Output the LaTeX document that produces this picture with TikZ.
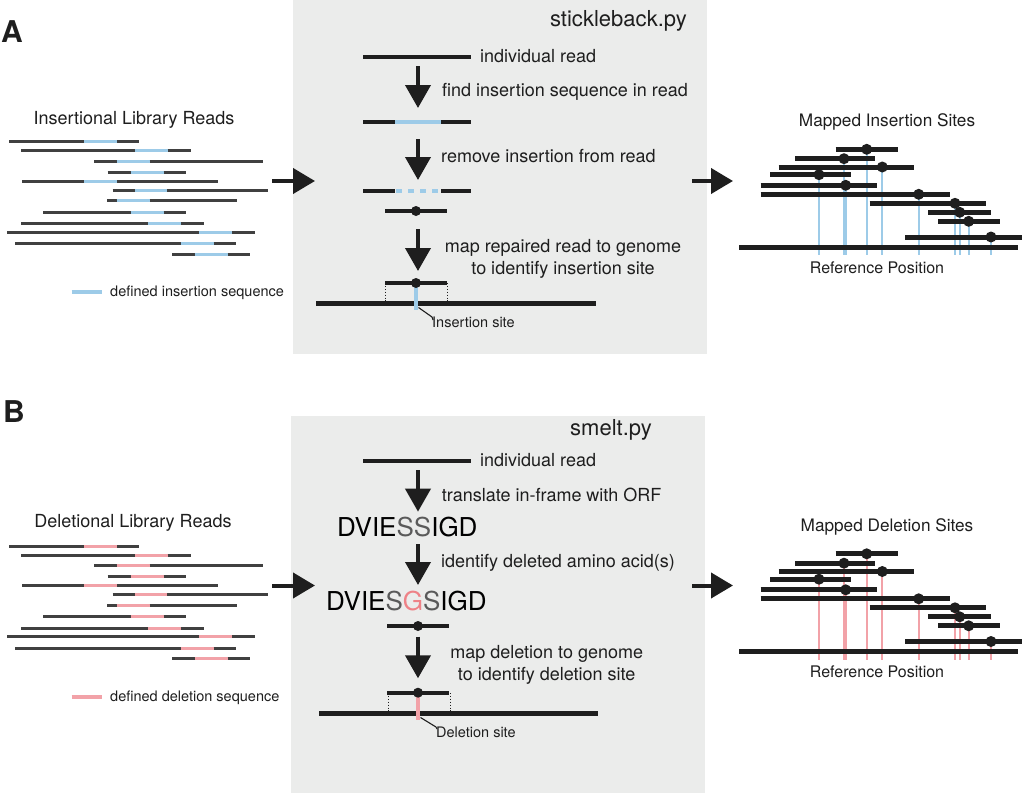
\documentclass[tikz,border=0pt]{standalone}
\usepackage{fontspec}
\setmainfont{TeX Gyre Heros}
\usetikzlibrary{arrows.meta}
\definecolor{panelbg}{RGB}{235,236,235}
\definecolor{readgray}{RGB}{64,64,64}
\definecolor{readblack}{RGB}{30,30,30}
\definecolor{insblue}{RGB}{157,203,232}
\definecolor{delpink}{RGB}{242,162,168}
\definecolor{aagray}{RGB}{90,90,90}
\definecolor{aapink}{RGB}{238,130,135}
\tikzset{
  libread/.style={readgray, line width=3pt},
  cread/.style={readblack, line width=4pt},
  mread/.style={readblack, line width=5pt},
  bigarrow/.style={readblack, line width=4pt, -{Triangle[length=23pt,width=25pt]}},
  rdot/.style={circle, fill=readblack, inner sep=0pt, minimum size=11pt},
  sdot/.style={circle, fill=readblack, inner sep=0pt, minimum size=10pt},
  steplabel/.style={font=\fontsize{18}{21}\selectfont, text=readblack, inner sep=0pt},
  small/.style={font=\fontsize{14.5}{17}\selectfont, text=readblack, inner sep=0pt},
  ptitle/.style={font=\fontsize{22}{26}\selectfont, text=readblack, inner sep=0pt},
  aa/.style={font=\fontsize{26}{30}\selectfont, inner sep=0pt},
  plabel/.style={font=\bfseries\fontsize{30}{34}\selectfont, text=readblack, inner sep=0pt},
}
\begin{document}
\begin{tikzpicture}[x=1pt,y=-1pt]
\useasboundingbox (0,0) rectangle (1023,795);
% panels
\fill[panelbg] (293,0) rectangle (707,354);
\fill[panelbg] (291,416) rectangle (705,793);
% panel labels
\node[plabel, anchor=base west] (labA) at (1,42) {A};
\node[plabel, anchor=base west] (labB) at (3,422) {B};

% ---------------- left library reads (both panels) ----------------
\foreach \dy/\segcol in {0/insblue, 404.5/delpink}{
  \begin{scope}[shift={(0,\dy)}]
  \foreach \xs/\bs/\be/\xe/\yy in {
    9.3/84/117.3/139.3/141.7,
    21/135/167.7/190.7/150.7,
    94/116.7/149.7/263.3/161.3,
    107.7/130.7/163.7/186/172,
    22.3/84/117.3/217.7/181,
    112.7/135/167.3/268/190,
    107/116.7/149.7/237.3/200.7,
    43/130.7/163.7/186/212,
    21/148.3/181/203.7/223.7,
    7.3/199.3/232/255/232.3,
    15/180.7/213.7/236.3/243.7,
    172/194.7/227.7/250.3/254}{
    \draw[libread] (\xs,\yy) -- (\bs,\yy);
    \draw[libread, draw=\segcol] (\bs,\yy) -- (\be,\yy);
    \draw[libread] (\be,\yy) -- (\xe,\yy);
  }
  \draw[\segcol, line width=4pt] (71.7,292.3) -- (101.7,292.3);
  % mapped sites
  \foreach \xs/\xe/\yy/\dx in {
    835.7/897.7/149.3/866.7,
    795/875.3/158.7/844,
    778.7/913.7/167/882.3,
    770/850.7/174.7/819,
    760.7/877.3/185.3/845.7,
    760.7/949.7/194.3/918.7,
    869.7/985.7/203.3/955,
    928.3/990.7/212.3/959.7,
    938.3/1000/221.3/968.7,
    905.3/1022/237/991}{
    \draw[\segcol, line width=2pt] (\dx,\yy) -- (\dx,255.3);
  }
  \draw[mread] (739,247.3) -- (1018.3,247.3);
  \foreach \xs/\xe/\yy/\dx in {
    835.7/897.7/149.3/866.7,
    795/875.3/158.7/844,
    778.7/913.7/167/882.3,
    770/850.7/174.7/819,
    760.7/877.3/185.3/845.7,
    760.7/949.7/194.3/918.7,
    869.7/985.7/203.3/955,
    928.3/990.7/212.3/959.7,
    938.3/1000/221.3/968.7,
    905.3/1022/237/991}{
    \draw[mread] (\xs,\yy) -- (\xe,\yy);
    \node[rdot] at (\dx,\yy) {};
  }
  \node[font=\fontsize{16}{19}\selectfont, text=readblack, inner sep=0pt, anchor=base] (refpos) at (877,273.3) {Reference Position};
  % big horizontal arrows
  \coordinate (la) at (272,181);
  \coordinate (lb) at (315,181);
  \coordinate (ra) at (692,181);
  \coordinate (rb) at (733,181);
  \draw[bigarrow, -{Triangle[length=22pt,width=25pt]}] (la) -- (lb);
  \draw[bigarrow, -{Triangle[length=22pt,width=25pt]}] (ra) -- (rb);
  \end{scope}
}
% left titles and legend texts
\node[font=\fontsize{18}{21}\selectfont, text=readblack, inner sep=0pt, anchor=base] (ilr) at (134,124.3) {Insertional Library Reads};
\node[font=\fontsize{18}{21}\selectfont, text=readblack, inner sep=0pt, anchor=base] (dlr) at (133,527.5) {Deletional Library Reads};
\node[small, anchor=base west] (legA) at (110,296.7) {defined insertion sequence};
\node[small, anchor=base west] (legB) at (110,701) {defined deletion sequence};
\node[font=\fontsize{17.2}{20}\selectfont, text=readblack, inner sep=0pt, anchor=base] (mis) at (887,126.7) {Mapped Insertion Sites};
\node[font=\fontsize{17.2}{20}\selectfont, text=readblack, inner sep=0pt, anchor=base] (mds) at (887,531.2) {Mapped Deletion Sites};

% ---------------- panel A centre ----------------
\node[ptitle, anchor=base east] (tA) at (687,26) {stickleback.py};
\draw[cread] (363,57) -- (471,57);
\node[steplabel, anchor=base west] (irA) at (480,62.7) {individual read};
\coordinate (a1s) at (418,66); \coordinate (a1e) at (418,108);
\draw[bigarrow] (a1s) -- (a1e);
\node[steplabel, anchor=base west] (s1A) at (442,96.5) {find insertion sequence in read};
\draw[cread] (363,122) -- (395,122);
\draw[cread, draw=insblue] (395,122) -- (441,122);
\draw[cread] (441,122) -- (471,122);
\coordinate (a2s) at (418,139); \coordinate (a2e) at (418,180);
\draw[bigarrow] (a2s) -- (a2e);
\node[steplabel, anchor=base west] (s2A) at (441,162.7) {remove insertion from read};
\draw[cread] (363,191) -- (395,191);
\draw[cread, draw=insblue, dash pattern=on 6pt off 6pt, dash phase=-1pt] (395,191) -- (441,191);
\draw[cread] (441,191) -- (471,191);
\draw[cread] (385,211) -- (447,211);
\node[sdot] (dA1) at (416,211) {};
\coordinate (a3s) at (418,229); \coordinate (a3e) at (418,271);
\draw[bigarrow] (a3s) -- (a3e);
\node[steplabel, anchor=base] (s3A) at (563,252.3) {map repaired read to genome};
\node[steplabel, anchor=base] (s4A) at (563,274) {to identify insertion site};
\draw[readblack, line width=0.9pt, dotted] (385,283) -- (385,303);
\draw[readblack, line width=0.9pt, dotted] (447,283) -- (447,303);
\draw[mread] (316,303) -- (596,303);
\draw[insblue, line width=4pt] (416,283) -- (416,310);
\draw[cread] (385,283) -- (447,283);
\node[sdot] (dA2) at (416,283) {};
\node[small, anchor=base west] (isA) at (432,327.7) {Insertion site};
\coordinate (lA) at (418.5,307.5);
\draw[readblack, line width=1.1pt] (lA) -- (432,317) -- (433,320);

% ---------------- panel B centre ----------------
\node[ptitle, anchor=base east] (tB) at (652,435.7) {smelt.py};
\draw[cread] (363,461) -- (471,461);
\node[steplabel, anchor=base west] (irB) at (480,466.7) {individual read};
\coordinate (b1s) at (418,470); \coordinate (b1e) at (418,511.7);
\draw[bigarrow] (b1s) -- (b1e);
\node[steplabel, anchor=base west] (s1B) at (441.7,501) {translate in-frame with ORF};
\node[aa, anchor=base west] (aa1) at (337,536.7) {DVIE\textcolor{aagray}{SS}IGD};
\coordinate (b2s) at (418,544); \coordinate (b2e) at (418,585);
\draw[bigarrow] (b2s) -- (b2e);
\node[steplabel, anchor=base west] (s2B) at (441,567.7) {identify deleted amino acid(s)};
\node[aa, anchor=base west] (aa2) at (326,610) {DVIE\textcolor{aagray}{S}\textcolor{aapink}{G}\textcolor{aagray}{S}IGD};
\draw[cread] (387,626) -- (449,626);
\node[sdot] (dB1) at (418,626) {};
\coordinate (b3s) at (418,636.7); \coordinate (b3e) at (418,678.3);
\draw[bigarrow] (b3s) -- (b3e);
\node[steplabel, anchor=base] (s3B) at (546.7,658.3) {map deletion to genome};
\node[steplabel, anchor=base] (s4B) at (546.7,680) {to identify deletion site};
\draw[readblack, line width=0.9pt, dotted] (388,693) -- (388,713);
\draw[readblack, line width=0.9pt, dotted] (450,693) -- (450,713);
\draw[mread] (319,713.3) -- (598,713.3);
\draw[delpink, line width=4pt] (418,693) -- (418,719.5);
\draw[cread] (387,692.7) -- (449,692.7);
\node[sdot] (dB2) at (418,692.7) {};
\node[small, anchor=base west] (dsB) at (436,737.7) {Deletion site};
\coordinate (lB) at (420.5,717.5);
\draw[readblack, line width=1.1pt] (lB) -- (436,727) -- (437,729);
\end{tikzpicture}
\end{document}
